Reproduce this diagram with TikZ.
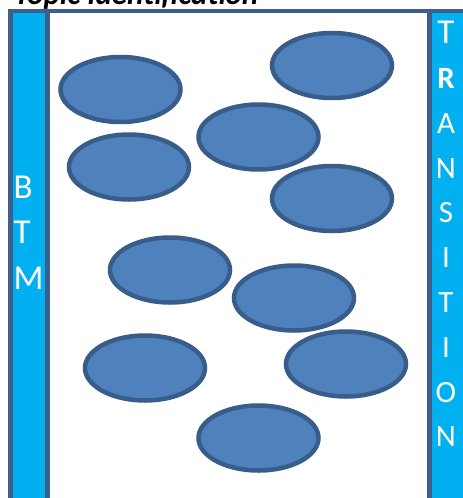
\documentclass[tikz,border=0pt]{standalone}
\usepackage{fontspec}
\setmainfont{Carlito}
\usetikzlibrary{shapes.geometric}
\definecolor{ovalfill}{HTML}{4F81BD}
\definecolor{ovalline}{HTML}{385D8A}
\definecolor{barfill}{HTML}{00B0F0}
\definecolor{frameline}{HTML}{3C5F8D}
\tikzset{
  oval/.style={ellipse, fill=ovalfill, draw=ovalline, line width=4.5pt,
    minimum width=120pt, minimum height=65pt, inner sep=0pt},
  bar/.style={fill=barfill, draw=frameline, line width=4.5pt},
  barletter/.style={text=white, font=\fontsize{31}{31}\selectfont, inner sep=0pt, anchor=base},
}
\begin{document}
\begin{tikzpicture}[x=1pt,y=-1pt]
\useasboundingbox (0,0) rectangle (463,498);
\clip (0,0) rectangle (463,498);
\node[anchor=base west, inner sep=0pt, font=\fontsize{31}{31}\selectfont\bfseries\itshape] (title) at (14,4) {Topic Identification};
\draw[fill=white, draw=frameline, line width=4.5pt] (10.5,11) rectangle (475,520);
\draw[bar] (10.5,11) rectangle (47.5,520);
\draw[bar] (429.5,11) rectangle (475,520);
% left letters
\node[barletter, anchor=base west, font=\fontsize{35}{35}\selectfont] (b1) at (13.5,198) {B};
\node[barletter, anchor=base west, font=\fontsize{35}{35}\selectfont] (b2) at (13.5,243) {T};
\node[barletter, anchor=base west, font=\fontsize{35}{35}\selectfont] (b3) at (13.5,289) {M};
% right letters
\node[barletter, font=\fontsize{35}{35}\selectfont] (r1) at (446,43) {T};
\node[barletter, font=\fontsize{31}{31}\selectfont\bfseries] (r2) at (446,88) {R};
\node[barletter] (r3) at (446,133) {A};
\node[barletter] (r4) at (446,178) {N};
\node[barletter] (r5) at (446,222) {S};
\node[barletter] (r6) at (446,267) {I};
\node[barletter] (r7) at (446,312) {T};
\node[barletter] (r8) at (446,357) {I};
\node[barletter] (r9) at (446,402) {O};
\node[barletter] (r10) at (446,446) {N};
% ovals
\node[oval] (o1) at (120.5,89.5) {};
\node[oval] (o2) at (332,65.5) {};
\node[oval] (o3) at (258.5,137) {};
\node[oval] (o4) at (129,167) {};
\node[oval] (o5) at (332,198.5) {};
\node[oval] (o6) at (170,270) {};
\node[oval] (o7) at (294,298) {};
\node[oval] (o8) at (145,368) {};
\node[oval] (o9) at (346,364) {};
\node[oval] (o10) at (258.5,438) {};
\end{tikzpicture}
\end{document}
